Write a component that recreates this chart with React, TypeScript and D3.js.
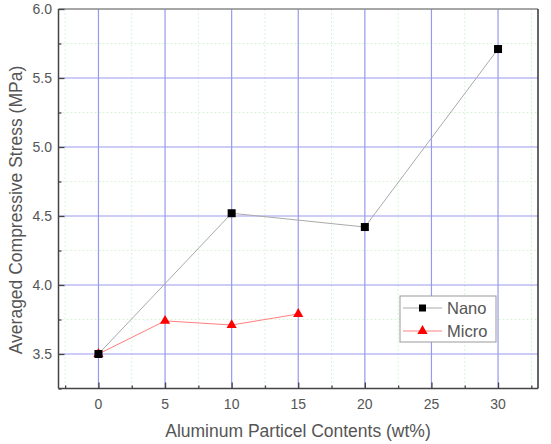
import * as d3 from 'd3';
import React, { useRef, useEffect } from 'react';

// data
const nanoX = [0, 10, 20, 30];
const nanoY = [3.5, 4.52, 4.42, 5.71];
const microX = [0, 5, 10, 15];
const microY = [3.5, 3.74, 3.71, 3.79];
const xTicks = [0, 5, 10, 15, 20, 25, 30];
const yTicks = [3.5, 4.0, 4.5, 5.0, 5.5, 6.0];
const seriesNames = ['Nano', 'Micro'];

function App() {
    const ref = useRef<SVGSVGElement>(null);
    const width = 551;
    const height = 444;

    useEffect(() => {
        draw();
    }, []);

    const draw = () => {
        const svg = d3.select(ref.current);
        svg.selectAll('*').remove();

        const left = 58.5, right = 538, top = 9, bottom = 388.5;
        const font = 'Liberation Sans, Arial, sans-serif';
        const textColor = '#555';

        const x = d3.scaleLinear().domain([-3, 33]).range([left, right]);
        const y = d3.scaleLinear().domain([3.25, 6.0]).range([bottom, top]);

        svg.append('rect')
            .attr('width', width).attr('height', height).attr('fill', '#fff');

        // minor grid
        const minorX = xTicks.slice(0, -1).map(d => d + 2.5).concat([-2.5, 32.5]);
        const minorY = yTicks.slice(0, -1).map(d => d + 0.25).concat([3.25]);
        const g = svg.append('g');
        g.selectAll('.mx').data(minorX.filter(d => d > -3 && d < 33)).enter().append('line')
            .attr('x1', d => x(d)).attr('x2', d => x(d))
            .attr('y1', top).attr('y2', bottom)
            .attr('stroke', '#d8f5d8').attr('stroke-width', 1).attr('stroke-dasharray', '2,2');
        g.selectAll('.my').data(minorY.filter(d => d > 3.25)).enter().append('line')
            .attr('y1', d => y(d)).attr('y2', d => y(d))
            .attr('x1', left).attr('x2', right)
            .attr('stroke', '#d8f5d8').attr('stroke-width', 1).attr('stroke-dasharray', '2,2');

        // major grid
        g.selectAll('.gx').data(xTicks).enter().append('line')
            .attr('x1', d => x(d)).attr('x2', d => x(d))
            .attr('y1', top).attr('y2', bottom)
            .attr('stroke', '#9999ee').attr('stroke-width', 1.2);
        g.selectAll('.gy').data(yTicks.slice(0, -1)).enter().append('line')
            .attr('y1', d => y(d)).attr('y2', d => y(d))
            .attr('x1', left).attr('x2', right)
            .attr('stroke', '#9999ee').attr('stroke-width', 1.2);

        // frame
        svg.append('line').attr('x1', left).attr('x2', right).attr('y1', top).attr('y2', top)
            .attr('stroke', '#888').attr('stroke-width', 1.5);
        svg.append('line').attr('x1', right).attr('x2', right).attr('y1', top).attr('y2', bottom)
            .attr('stroke', '#333').attr('stroke-width', 1.5);

        // axes with inward ticks
        const xAxis = svg.append('g').attr('transform', `translate(0,${bottom})`)
            .call(d3.axisTop(x).tickValues(xTicks).tickSize(6).tickFormat(() => ''));
        svg.append('g').attr('transform', `translate(0,${bottom})`)
            .call(d3.axisTop(x).tickValues(minorX).tickSize(3).tickFormat(() => ''))
            .select('.domain').remove();
        const yAxis = svg.append('g').attr('transform', `translate(${left},0)`)
            .call(d3.axisRight(y).tickValues(yTicks).tickSize(6).tickFormat(() => ''));
        svg.append('g').attr('transform', `translate(${left},0)`)
            .call(d3.axisRight(y).tickValues(minorY).tickSize(3).tickFormat(() => ''))
            .select('.domain').remove();
        svg.selectAll('.domain').attr('stroke', '#444').attr('stroke-width', 1.5);
        svg.selectAll('.tick line').attr('stroke', '#444').attr('stroke-width', 1.3);
        xAxis.select('.domain').attr('d', `M${left},0H${right}`);
        yAxis.select('.domain').attr('d', `M0,${top}V${bottom}`);

        // tick labels
        svg.selectAll('.xl').data(xTicks).enter().append('text')
            .attr('x', d => x(d)).attr('y', 409)
            .attr('text-anchor', 'middle')
            .attr('font-family', font).attr('font-size', 14).attr('fill', textColor)
            .text(d => d);
        svg.selectAll('.yl').data(yTicks).enter().append('text')
            .attr('x', 52).attr('y', d => y(d) + 5)
            .attr('text-anchor', 'end')
            .attr('font-family', font).attr('font-size', 14).attr('fill', textColor)
            .text(d => d.toFixed(1));

        // axis titles
        svg.append('text')
            .attr('x', 298).attr('y', 437)
            .attr('text-anchor', 'middle')
            .attr('font-family', font).attr('font-size', 17.5).attr('fill', textColor)
            .text('Aluminum Particel Contents (wt%)');
        svg.append('text')
            .attr('transform', `translate(22,210) rotate(-90)`)
            .attr('text-anchor', 'middle')
            .attr('font-family', font).attr('font-size', 17.5).attr('fill', textColor)
            .text('Averaged Compressive Stress (MPa)');

        const nanoPts = nanoX.map((d, i) => [x(d), y(nanoY[i])] as [number, number]);
        const microPts = microX.map((d, i) => [x(d), y(microY[i])] as [number, number]);

        svg.append('path').attr('d', d3.line()(nanoPts))
            .attr('fill', 'none').attr('stroke', '#aaa').attr('stroke-width', 1);
        svg.append('path').attr('d', d3.line()(microPts))
            .attr('fill', 'none').attr('stroke', '#ff8080').attr('stroke-width', 1);

        const tri = d3.symbol().type(d3.symbolTriangle).size(45);
        svg.selectAll('.mt').data(microPts).enter().append('path')
            .attr('d', tri)
            .attr('transform', d => `translate(${d[0]},${d[1]})`)
            .attr('fill', '#ff0000');
        svg.selectAll('.ms').data(nanoPts).enter().append('rect')
            .attr('x', d => d[0] - 4).attr('y', d => d[1] - 4)
            .attr('width', 8).attr('height', 8)
            .attr('fill', '#000');

        // legend
        const lg = svg.append('g').attr('transform', 'translate(400,296)');
        lg.append('rect').attr('width', 96).attr('height', 46)
            .attr('fill', '#fff').attr('stroke', '#999').attr('stroke-width', 1);
        const colors = ['#aaa', '#ff8080'];
        seriesNames.forEach((name, i) => {
            const cy = 12 + i * 23;
            lg.append('line').attr('x1', 3).attr('x2', 42).attr('y1', cy).attr('y2', cy)
                .attr('stroke', colors[i]).attr('stroke-width', 1);
            if (i === 0) {
                lg.append('rect').attr('x', 19).attr('y', cy - 3.5).attr('width', 7).attr('height', 7).attr('fill', '#000');
            } else {
                lg.append('path').attr('d', tri).attr('transform', `translate(22.5,${cy})`).attr('fill', '#ff0000');
            }
            lg.append('text').attr('x', 47).attr('y', cy + 6)
                .attr('font-family', font).attr('font-size', 16.5).attr('fill', textColor)
                .text(name);
        });
    };

    return (
        <svg ref={ref} width={width} height={height}
            style={{ position: 'absolute', left: 0, top: 0 }}>
        </svg>
    );
}

export default App;
